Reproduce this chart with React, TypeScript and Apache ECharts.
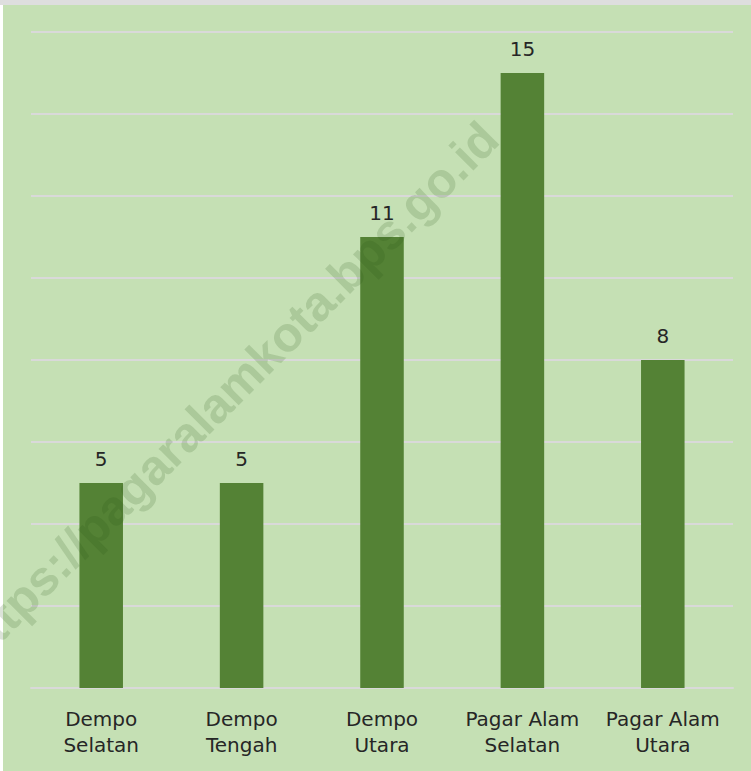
import React, { useEffect, useRef } from "react";
import * as echarts from "echarts";

const categories = ["Dempo\nSelatan", "Dempo\nTengah", "Dempo\nUtara", "Pagar Alam\nSelatan", "Pagar Alam\nUtara"];
const values = [5, 5, 11, 15, 8];
const watermarkText = "https://pagaralamkota.bps.go.id";

export default function App() {
  const ref = useRef<HTMLDivElement>(null);
  useEffect(() => {
    document.body.style.margin = "0";
    const chart = echarts.init(ref.current!, null, { renderer: "svg" });
    chart.setOption({
      animation: false,
      backgroundColor: "#ffffff",
      textStyle: { fontFamily: "DejaVu Sans" },
      graphic: [
        { type: "rect", z: -10, shape: { x: 0, y: 0, width: 751, height: 5 }, style: { fill: "#dedede" } },
        { type: "rect", z: -10, shape: { x: 3, y: 5, width: 748, height: 766 }, style: { fill: "#c5e0b4" } },
        {
          type: "text",
          z: 100,
          x: 228,
          y: 392,
          rotation: Math.PI / 4,
          style: {
            text: watermarkText,
            fill: "rgba(40,80,20,0.16)",
            font: "bold 49px 'Liberation Sans', Arial, sans-serif",
            align: "center",
            verticalAlign: "middle",
          },
        },
      ],
      grid: { left: 31, right: 18, top: 32, bottom: 83, containLabel: false },
      xAxis: {
        type: "category",
        data: categories,
        axisLine: { show: true, lineStyle: { color: "#d9d9d9", width: 2 } },
        axisTick: { show: false },
        axisLabel: { color: "#262626", fontSize: 20, lineHeight: 26, margin: 18, interval: 0, fontFamily: "DejaVu Sans" },
      },
      yAxis: {
        type: "value",
        min: 0,
        max: 16,
        interval: 2,
        axisLine: { show: false },
        axisTick: { show: false },
        axisLabel: { show: false },
        splitLine: { lineStyle: { color: "#d9d9d9", width: 2 } },
      },
      series: [
        {
          type: "bar",
          data: values,
          barWidth: "31%",
          itemStyle: { color: "#548235" },
          label: { show: true, position: "top", distance: 14, color: "#262626", fontSize: 20, fontFamily: "DejaVu Sans" },
        },
      ],
    });
    return () => chart.dispose();
  }, []);
  return <div ref={ref} style={{ width: 751, height: 771, position: "absolute", left: 0, top: 0 }} />;
}
